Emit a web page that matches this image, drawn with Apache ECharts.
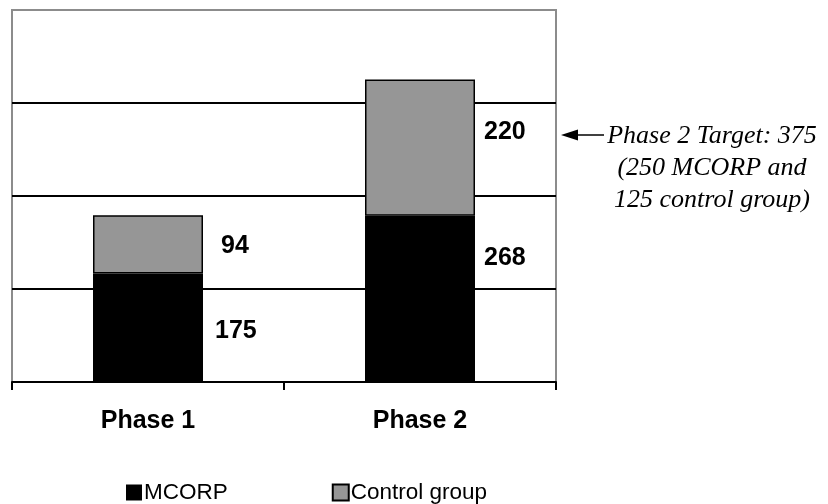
<!DOCTYPE html>
<html>
<head>
<meta charset="utf-8">
<script src="https://cdn.jsdelivr.net/npm/echarts@6/dist/echarts.min.js"></script>
<style>
html,body{margin:0;padding:0;background:#fff;}
#chart{width:828px;height:504px;}
</style>
</head>
<body>
<div id="chart"></div>
<script>
const categories = ['Phase 1', 'Phase 2'];
const mcorp = [175, 268];
const controlGroup = [94, 220];
const seriesNames = ['MCORP', 'Control group'];
const annotationLines = ['Phase 2 Target: 375', '(250 MCORP and', '125 control group)'];

const chart = echarts.init(document.getElementById('chart'), null, {renderer: 'canvas'});

const sansBold = {fontFamily: '"Liberation Sans", Arial, sans-serif', fontWeight: 'bold', fontSize: 25, color: '#000'};
// manual label nudges (as placed in the original)
const nudgeM = [[12, 3], [9, -41]];
const nudgeC = [[18, 2], [9, -16]];

function withLabels(values, nudges) {
  return values.map((v, i) => ({
    value: v,
    label: {offset: nudges[i]}
  }));
}

const option = {
  animation: false,
  backgroundColor: '#fff',
  grid: {
    left: 12, right: 272, top: 10, bottom: 122,
    show: true, borderColor: '#8c8c8c', borderWidth: 2, backgroundColor: 'transparent'
  },
  legend: {
    data: [
      {name: seriesNames[0], itemStyle: {color: '#000', borderColor: '#000', borderWidth: 0}},
      {name: seriesNames[1], itemStyle: {color: '#969696', borderColor: '#000', borderWidth: 2}}
    ],
    left: 121, top: 476,
    itemWidth: 16, itemHeight: 16, itemGap: 104,
    icon: 'rect',
    textStyle: {fontFamily: '"Liberation Sans", Arial, sans-serif', fontSize: 22.5, color: '#000', padding: [0, 0, 0, -3]}
  },
  xAxis: {
    type: 'category',
    data: categories,
    axisLine: {show: true, lineStyle: {color: '#000', width: 2}},
    axisTick: {show: true, length: 8, alignWithLabel: false, lineStyle: {color: '#000', width: 2}},
    axisLabel: Object.assign({margin: 27}, sansBold),
    splitLine: {show: false}
  },
  yAxis: {
    type: 'value',
    min: 0, max: 600, interval: 150,
    axisLine: {show: false},
    axisTick: {show: false},
    axisLabel: {show: false},
    splitLine: {show: true, showMinLine: false, showMaxLine: false, lineStyle: {color: '#000', width: 2}}
  },
  series: [
    {
      name: seriesNames[0],
      type: 'bar',
      stack: 'total',
      barWidth: 110,
      data: withLabels(mcorp, nudgeM),
      itemStyle: {color: '#000', borderColor: '#000', borderWidth: 1.5},
      label: Object.assign({show: true, position: 'right', distance: 0}, sansBold)
    },
    {
      name: seriesNames[1],
      type: 'bar',
      stack: 'total',
      barWidth: 110,
      data: withLabels(controlGroup, nudgeC),
      itemStyle: {color: '#969696', borderColor: '#000', borderWidth: 1.5},
      label: Object.assign({show: true, position: 'right', distance: 0}, sansBold)
    }
  ],
  graphic: [
    {
      type: 'line',
      shape: {x1: 572, y1: 135, x2: 604, y2: 135},
      style: {stroke: '#000', lineWidth: 1.5}
    },
    {
      type: 'polygon',
      shape: {points: [[561, 135], [578, 129.5], [578, 140.5]]},
      style: {fill: '#000'}
    },
    {
      type: 'text',
      x: 712, y: 120,
      style: {
        text: annotationLines.join('\n'),
        fontFamily: '"Liberation Serif", "Times New Roman", serif',
        fontStyle: 'italic',
        fontSize: 26,
        lineHeight: 32,
        align: 'center',
        verticalAlign: 'top',
        fill: '#000'
      }
    }
  ]
};
chart.setOption(option);
</script>
</body>
</html>
